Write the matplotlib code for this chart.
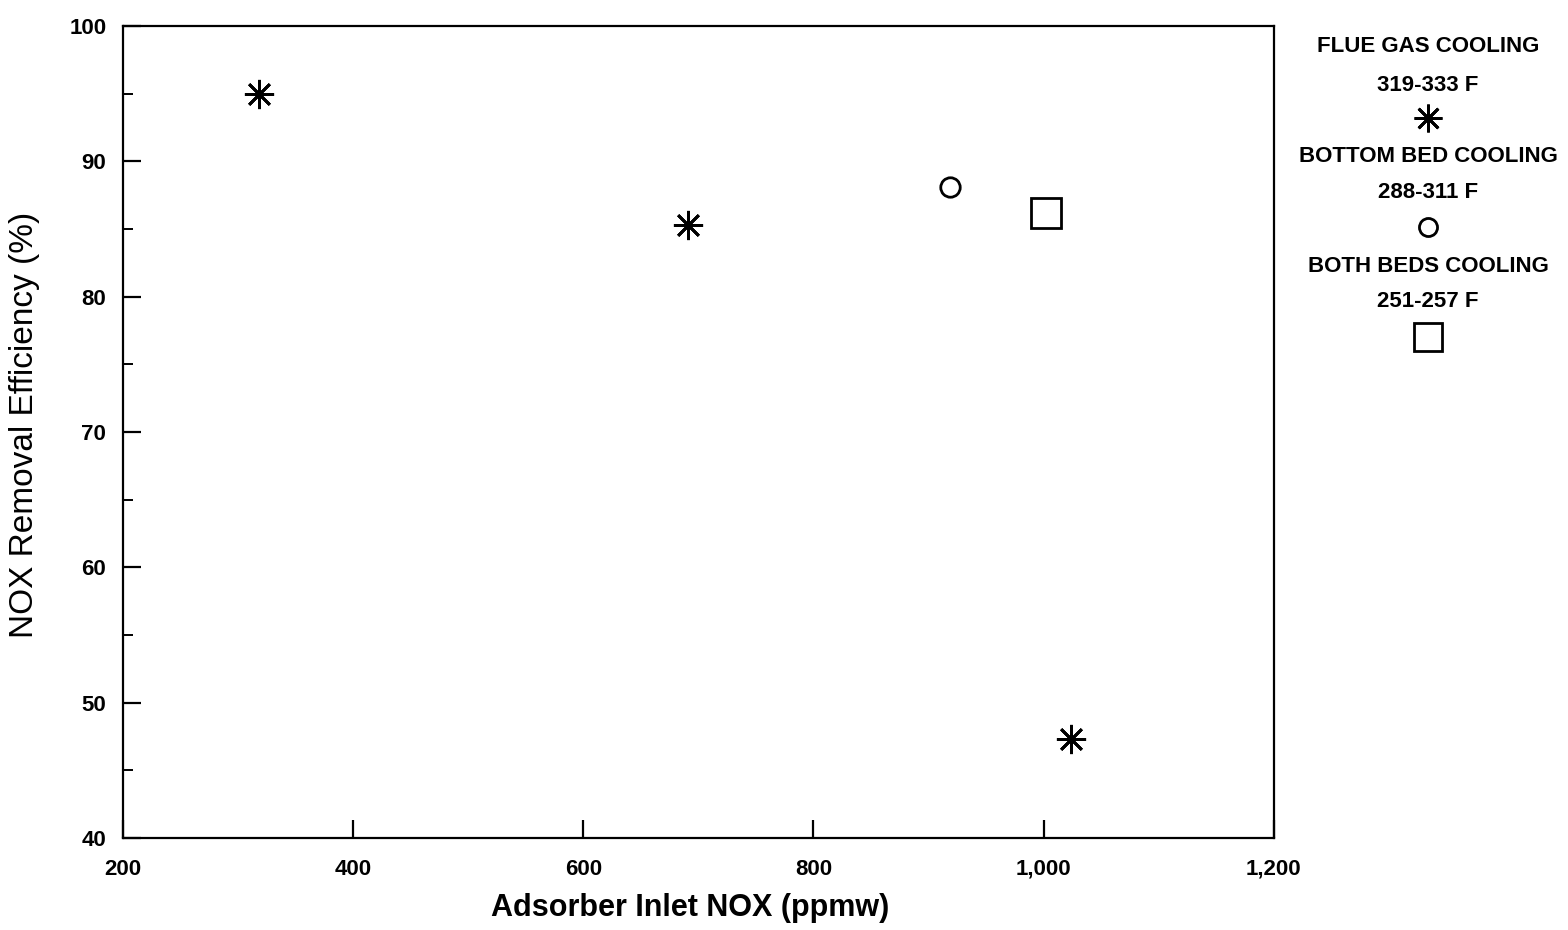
import matplotlib
matplotlib.use("Agg")
import matplotlib.pyplot as plt
from matplotlib.lines import Line2D
from matplotlib.ticker import MultipleLocator, FuncFormatter

plt.rcParams['font.family'] = ['Liberation Sans', 'DejaVu Sans']

# Data
flue_x = [318, 691, 1024]          # flue gas cooling, 319-333 F
flue_y = [95.0, 85.3, 47.3]
bottom_x = [919]                   # bottom bed cooling, 288-311 F
bottom_y = [88.1]
both_x = [1002]                    # both beds cooling, 251-257 F
both_y = [86.2]

legend_titles = ['FLUE GAS COOLING', 'BOTTOM BED COOLING', 'BOTH BEDS COOLING']
legend_temps = ['319-333 F', '288-311 F', '251-257 F']

star = (8, 2, 0)  # 8-spoke asterisk

fig = plt.figure(figsize=(15.68, 9.3), dpi=100)
ax = fig.add_axes([0.0784, 0.099, 0.734, 0.873])

ax.plot(flue_x, flue_y, linestyle='none', marker=star, ms=21, mew=2.0, color='black')
ax.plot(bottom_x, bottom_y, linestyle='none', marker='o', ms=14, mew=2.0,
        mfc='none', mec='black')
ax.plot(both_x, both_y, linestyle='none', marker='s', ms=21, mew=2.0,
        mfc='none', mec='black')

ax.set_xlim(200, 1200)
ax.set_ylim(40, 100)
ax.xaxis.set_major_locator(MultipleLocator(200))
ax.yaxis.set_major_locator(MultipleLocator(10))
ax.yaxis.set_minor_locator(MultipleLocator(5))
ax.xaxis.set_major_formatter(FuncFormatter(lambda v, p: f'{int(v):,}'))

for s in ax.spines.values():
    s.set_linewidth(1.6)

ax.tick_params(axis='both', which='major', direction='in', length=13, width=1.6,
               labelsize=16)
ax.tick_params(axis='y', which='minor', direction='in', length=7, width=1.4)
ax.tick_params(axis='y', which='major', pad=12)
ax.tick_params(axis='x', which='major', pad=15)
for lab in ax.get_xticklabels() + ax.get_yticklabels():
    lab.set_fontweight('bold')

ax.set_ylabel('NOX Removal Efficiency (%)', fontsize=24)
ax.yaxis.set_label_coords(-0.072, 0.509)
ax.set_xlabel('Adsorber Inlet NOX (ppmw)', fontsize=22, fontweight='bold')
ax.xaxis.set_label_coords(0.4926, -0.068)

# Legend drawn at the right, text above each marker
lx = 0.9107
title_y = [0.9495, 0.8312, 0.7133]
temp_y = [0.9086, 0.7925, 0.6753]
mark_y = [0.873, 0.7559, 0.6376]
markers = [dict(marker=star, ms=20, mew=2.0, color='black'),
           dict(marker='o', ms=13, mew=2.0, mfc='none', mec='black'),
           dict(marker='s', ms=20, mew=2.0, mfc='none', mec='black')]

for t, tmp, ty, tpy, my, mk in zip(legend_titles, legend_temps, title_y, temp_y,
                                   mark_y, markers):
    fig.text(lx, ty, t, ha='center', va='center', fontsize=16, fontweight='bold')
    fig.text(lx, tpy, tmp, ha='center', va='center', fontsize=16, fontweight='bold')
    fig.add_artist(Line2D([lx], [my], transform=fig.transFigure, linestyle='none', **mk))

fig.savefig('out.png', dpi=100)
